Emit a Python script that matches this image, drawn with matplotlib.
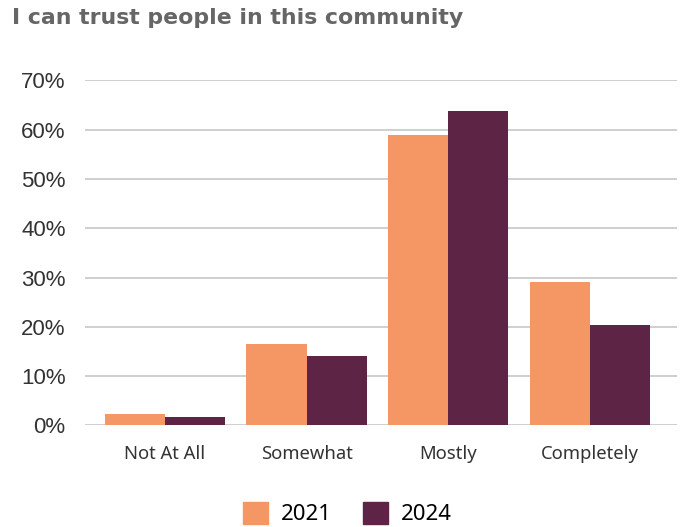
import matplotlib.pyplot as plt
import numpy as np
from matplotlib.patches import Patch

# survey responses, percent of respondents
categories = ['Not At All', 'Somewhat', 'Mostly', 'Completely']
pct_2021 = [2.4, 16.6, 58.9, 29.2]
pct_2024 = [1.8, 14.0, 63.9, 20.4]
years = ['2021', '2024']
colors = ['#F59764', '#5E2445']

fig = plt.figure(figsize=(6.83, 5.27), dpi=100)
ax = fig.add_axes([0.1245, 0.1926, 0.8665, 0.6547])

x = np.arange(len(categories))
w = 0.425
ax.bar(x - w / 2, pct_2021, width=w, color=colors[0], zorder=3)
ax.bar(x + w / 2, pct_2024, width=w, color=colors[1], zorder=3)

ax.set_xlim(-0.565, 3.615)
ax.set_ylim(0, 70)
ax.set_yticks(range(0, 71, 10))
ax.set_yticklabels([f'{v}%' for v in range(0, 71, 10)],
                   fontsize=16, color='#333333', family='Liberation Sans')
ax.set_xticks(x)
ax.set_xticklabels(categories, fontsize=13.3, color='#333333', family='Noto Sans')
ax.tick_params(axis='y', length=0, pad=14)
ax.tick_params(axis='x', length=0, pad=14)
ax.grid(axis='y', color='#CCCCCC', linewidth=1.3, zorder=0)
for s in ax.spines.values():
    s.set_visible(False)

fig.text(0.0176, 0.966, 'I can trust people in this community', fontsize=15.8,
         fontweight='bold', color='#666666', family='DejaVu Sans', va='center')

handles = [Patch(color=c) for c in colors]
fig.legend(handles, years, loc='center', bbox_to_anchor=(0.509, 0.025), ncol=2,
           frameon=False, handlelength=1.1, handleheight=1.1,
           handletextpad=0.6, columnspacing=1.4,
           prop={'family': 'Noto Sans', 'size': 16})

fig.savefig('out.png', dpi=100)
